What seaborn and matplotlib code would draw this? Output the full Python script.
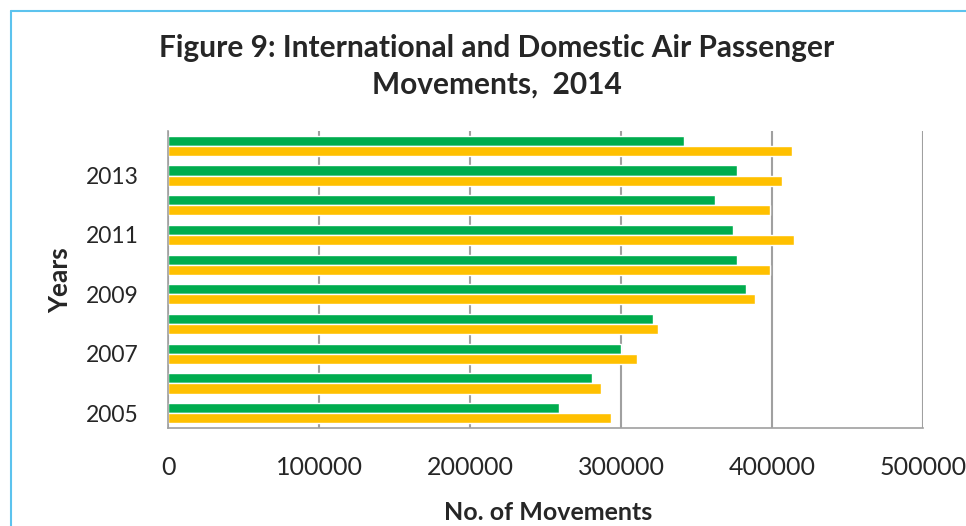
import pandas as pd
import numpy as np
import seaborn as sns
import matplotlib
matplotlib.use('Agg')
import matplotlib.pyplot as plt
from matplotlib.lines import Line2D

years = ['2014', '2013', '2012', '2011', '2010', '2009', '2008', '2007', '2006', '2005']
international = [342000, 377000, 362000, 374500, 377000, 383000, 321500, 300000, 281000, 258700]
domestic = [413000, 406500, 398500, 414800, 398500, 388500, 324300, 310400, 286500, 293600]
shown_years = ['2013', '2011', '2009', '2007', '2005']
x_ticks = [0, 100000, 200000, 300000, 400000, 500000]

df = pd.DataFrame({
    'Year': years * 2,
    'Movements': international + domestic,
    'Type': ['International'] * len(years) + ['Domestic'] * len(years),
})

sns.set_style('white')
plt.rcParams['font.family'] = ['Lato', 'DejaVu Sans']

fig = plt.figure(figsize=(9.66, 5.26), dpi=100)
ax = fig.add_axes([168 / 966, 98 / 526, 755 / 966, 297 / 526])

sns.barplot(data=df, x='Movements', y='Year', hue='Type', order=years,
            hue_order=['International', 'Domestic'],
            palette=['#00ac4e', '#ffc000'], orient='h', width=0.68,
            saturation=1, legend=False, ax=ax)

ax.set_xlim(0, 500000)
ax.set_ylim(len(years) - 0.5, -0.5)
ax.set_xticks(x_ticks)
ax.set_xticklabels([str(v) for v in x_ticks], fontsize=18)
ax.tick_params(axis='x', length=6, width=1.2, color='#a0a0a0', pad=14)
ax.xaxis.grid(True, color='#a0a0a0', linewidth=1.5)
ax.set_axisbelow(True)

pos = [years.index(y) for y in shown_years]
ax.set_yticks(pos)
ax.set_yticklabels(shown_years, fontsize=16.5)
ax.set_yticks(np.arange(-0.5, len(years), 1), minor=True)
ax.tick_params(axis='y', which='major', length=0, pad=21)
ax.tick_params(axis='y', which='minor', length=6, width=1.2, color='#a0a0a0')

for side in ['top', 'right']:
    ax.spines[side].set_visible(False)
for side in ['left', 'bottom']:
    ax.spines[side].set_color('#a0a0a0')
    ax.spines[side].set_linewidth(1.2)

ax.set_xlabel('No. of Movements', fontsize=18, fontweight='bold')
ax.xaxis.set_label_coords((548 - 168) / 755, -(512 - 428) / 297)
ax.set_ylabel('Years', fontsize=19, fontweight='bold')
ax.yaxis.set_label_coords(-(168 - 60) / 755, (428 - 280) / 297)
ax.xaxis.label.set_va('center')
ax.yaxis.label.set_va('center')

fig.text(497 / 966, 1 - 48 / 526, 'Figure 9: International and Domestic Air Passenger',
         ha='center', va='center', fontsize=21.5, fontweight='bold')
fig.text(497 / 966, 1 - 85 / 526, 'Movements,  2014',
         ha='center', va='center', fontsize=21.5, fontweight='bold')

# light blue frame on the left and top
fig.add_artist(Line2D([11 / 966, 11 / 966], [0, 1 - 11 / 526], transform=fig.transFigure,
                      color='#5cc3ee', linewidth=1.5))
fig.add_artist(Line2D([11 / 966, 1], [1 - 11 / 526, 1 - 11 / 526], transform=fig.transFigure,
                      color='#5cc3ee', linewidth=1.5))

fig.savefig('out.png', dpi=100)
